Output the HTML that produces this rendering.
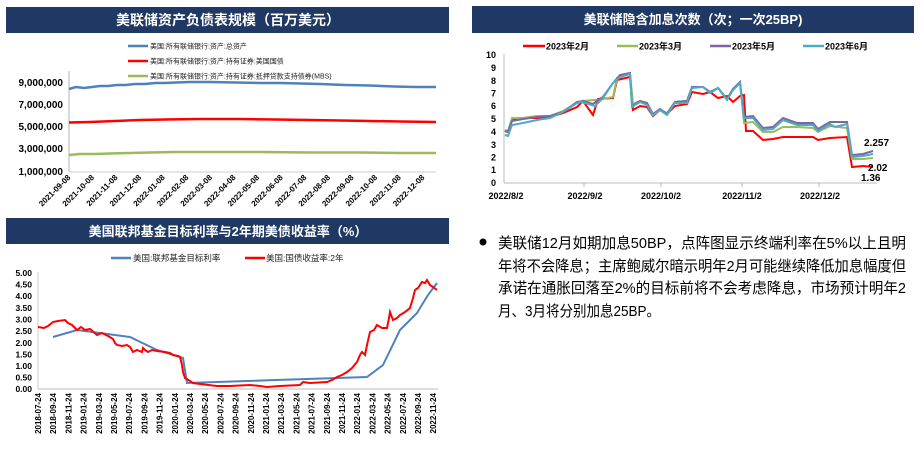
<!DOCTYPE html>
<html><head><meta charset="utf-8"><style>
html,body{margin:0;padding:0;background:#fff;}
svg{display:block;font-family:"Liberation Sans","Noto Sans CJK SC",sans-serif;}
</style></head><body>
<svg width="922" height="451" viewBox="0 0 922 451" xmlns="http://www.w3.org/2000/svg">
<!-- Panel 1 -->
<rect x="6" y="7" width="443" height="26" fill="#1f3864"/>
<text x="228" y="25" fill="#fff" font-size="14" font-weight="bold" text-anchor="middle">美联储资产负债表规模（百万美元）</text>
<g font-size="7" fill="#222">
<line x1="128" y1="46" x2="148" y2="46" stroke="#4f81bd" stroke-width="2.5"/><text x="150" y="48.5">美国:所有联储银行:资产:总资产</text>
<line x1="128" y1="61" x2="148" y2="61" stroke="#ff0000" stroke-width="2.5"/><text x="150" y="63.5">美国:所有联储银行:资产:持有证券:美国国债</text>
<line x1="128" y1="76" x2="148" y2="76" stroke="#9bbb59" stroke-width="2.5"/><text x="150" y="78.5">美国:所有联储银行:资产:持有证券:抵押贷款支持债券(MBS)</text>
</g>
<g font-size="10" font-weight="bold" fill="#000" text-anchor="end">
<text x="63" y="86">9,000,000</text><text x="63" y="108">7,000,000</text><text x="63" y="130">5,000,000</text><text x="63" y="152">3,000,000</text><text x="63" y="175">1,000,000</text>
</g>
<line x1="69" y1="71" x2="69" y2="172" stroke="#ccc" stroke-width="1.5"/>
<line x1="69" y1="172" x2="436" y2="172" stroke="#ccc" stroke-width="1"/>
<polyline fill="none" stroke="#4f81bd" stroke-width="2.5" points="69,89 76,87 84,88 92,87 100,86 108,86 117,85 126,85 135,84 145,84 155,83 165,83 176,82.5 190,82 210,82 235,82.5 260,83 280,83 300,83.5 320,84 345,85 370,85.5 395,86.5 415,87 436,87"/>
<polyline fill="none" stroke="#ff0000" stroke-width="2.5" points="69,122.5 90,122 115,121 140,120 165,119.5 200,119 240,119 275,119.5 310,120 340,120.5 370,121 400,121.5 436,122"/>
<polyline fill="none" stroke="#9bbb59" stroke-width="2.5" points="69,155 80,154 95,154 110,153.5 130,153 150,152.5 175,152 210,152 260,152 310,152.5 360,152.5 400,153 436,153"/>
<g font-size="8" font-weight="bold" fill="#000" text-anchor="end">
<text transform="translate(71,178) rotate(-45)">2021-09-08</text>
<text transform="translate(94.6,178) rotate(-45)">2021-10-08</text>
<text transform="translate(118.2,178) rotate(-45)">2021-11-08</text>
<text transform="translate(141.8,178) rotate(-45)">2021-12-08</text>
<text transform="translate(165.4,178) rotate(-45)">2022-01-08</text>
<text transform="translate(189,178) rotate(-45)">2022-02-08</text>
<text transform="translate(212.6,178) rotate(-45)">2022-03-08</text>
<text transform="translate(236.2,178) rotate(-45)">2022-04-08</text>
<text transform="translate(259.8,178) rotate(-45)">2022-05-08</text>
<text transform="translate(283.4,178) rotate(-45)">2022-06-08</text>
<text transform="translate(307,178) rotate(-45)">2022-07-08</text>
<text transform="translate(330.6,178) rotate(-45)">2022-08-08</text>
<text transform="translate(354.2,178) rotate(-45)">2022-09-08</text>
<text transform="translate(377.8,178) rotate(-45)">2022-10-08</text>
<text transform="translate(401.4,178) rotate(-45)">2022-11-08</text>
<text transform="translate(425,178) rotate(-45)">2022-12-08</text>
</g>
<line x1="6" y1="219" x2="449" y2="219" stroke="#1f3864" stroke-width="2"/>

<!-- Panel 2 -->
<rect x="472" y="6" width="442" height="27" fill="#1f3864"/>
<text x="693" y="24" fill="#fff" font-size="13" font-weight="bold" text-anchor="middle">美联储隐含加息次数（次；一次25BP)</text>
<g font-size="9" font-weight="bold" fill="#000">
<line x1="523" y1="46" x2="545" y2="46" stroke="#ff0000" stroke-width="2.5"/><text x="546" y="49.5">2023年2月</text>
<line x1="617" y1="46" x2="638" y2="46" stroke="#9bbb59" stroke-width="2.5"/><text x="639" y="49.5">2023年3月</text>
<line x1="710" y1="46" x2="731" y2="46" stroke="#8064a2" stroke-width="2.5"/><text x="732" y="49.5">2023年5月</text>
<line x1="803" y1="46" x2="824" y2="46" stroke="#4bacc6" stroke-width="2.5"/><text x="825" y="49.5">2023年6月</text>
</g>
<g font-size="9" font-weight="bold" fill="#000" text-anchor="end">
<text x="496" y="58">10</text><text x="496" y="71">9</text><text x="496" y="84">8</text><text x="496" y="96.5">7</text><text x="496" y="109">6</text><text x="496" y="122">5</text><text x="496" y="135">4</text><text x="496" y="148">3</text><text x="496" y="160.5">2</text><text x="496" y="173">1</text><text x="496" y="186">0</text>
</g>
<line x1="504" y1="54" x2="504" y2="183" stroke="#bbb"/>
<line x1="504" y1="183" x2="877" y2="183" stroke="#bbb"/>
<g stroke="#bbb"><line x1="584" y1="183" x2="584" y2="187"/><line x1="661" y1="183" x2="661" y2="187"/><line x1="742" y1="183" x2="742" y2="187"/><line x1="819" y1="183" x2="819" y2="187"/></g>
<g font-size="9" font-weight="bold" fill="#000" text-anchor="middle">
<text x="506" y="199">2022/8/2</text><text x="585" y="199">2022/9/2</text><text x="661" y="199">2022/10/2</text><text x="742" y="199">2022/11/2</text><text x="820" y="199">2022/12/2</text>
</g>
<polyline fill="none" stroke="#ff0000" stroke-width="2" points="505,131 508,132 512,120 523,118 537,118 550,117 563,113 577,107 583,101 593,115 598,99 613,98 617,80 630,77 633,110 640,106 647,107 653,116 660,110 667,114 675,106 687,104 692,92 703,94 710,92 718,98 727,96 733,102 740,96 744,95 746,131 753,131 763,140 773,139 783,137 797,137 813,137 818,140 830,138 847,137 852,167 863,166 873,167"/>
<polyline fill="none" stroke="#9bbb59" stroke-width="2" points="505,130 508,131 512,118 523,118 537,116 550,116 563,111 577,103 583,101 593,100 598,100 613,97 617,78 630,73 633,104 640,101 647,103 653,115 660,110 667,113 675,102 687,101 692,87 703,87 710,92 718,88 727,99 733,89 740,82 744,123 753,122 763,132 773,132 783,127 797,127 813,128 818,132 830,126 847,128 852,159 863,159 873,158"/>
<polyline fill="none" stroke="#8064a2" stroke-width="2" points="505,131 508,132 512,121 523,119 537,117 550,116 563,112 577,102 583,101 593,104 598,100 603,97 613,83 620,75 630,73 632,106 640,101 647,103 653,114 660,109 667,114 675,102 687,101 692,87 703,87 710,92 718,88 727,99 733,89 740,82 744,117 753,116 763,128 773,127 783,118 797,123 813,123 818,129 830,122 847,122 852,155 863,154 873,151"/>
<polyline fill="none" stroke="#4bacc6" stroke-width="2" points="505,135 508,136 512,125 523,123 537,120 550,118 563,112 577,103 580,102 585,103 595,106 603,98 613,83 620,77 630,74 632,107 640,102 647,105 653,115 660,110 667,115 675,103 687,103 692,88 703,87 710,93 718,88 727,100 733,90 740,83 744,118 753,118 763,130 773,129 783,120 797,125 813,125 818,131 830,124 835,127 847,124 852,157 863,156 873,154"/>
<g font-size="10" font-weight="bold" fill="#000">
<text x="864" y="146">2.257</text><text x="868" y="171">2.02</text><text x="861" y="181">1.36</text>
</g>

<!-- Panel 3 -->
<rect x="6" y="218" width="443" height="26" fill="#1f3864"/>
<text x="228" y="236" fill="#fff" font-size="13" font-weight="bold" text-anchor="middle">美国联邦基金目标利率与2年期美债收益率（%）</text>
<g font-size="8.5" fill="#222">
<line x1="111" y1="258" x2="131" y2="258" stroke="#4f81bd" stroke-width="2.5"/><text x="133" y="261">美国:联邦基金目标利率</text>
<line x1="245" y1="258" x2="265" y2="258" stroke="#ff0000" stroke-width="2.5"/><text x="266" y="261">美国:国债收益率:2年</text>
</g>
<g font-size="8.5" font-weight="bold" fill="#000" text-anchor="end">
<text x="32" y="276">5.00</text><text x="32" y="287.5">4.50</text><text x="32" y="299">4.00</text><text x="32" y="311">3.50</text><text x="32" y="322.5">3.00</text><text x="32" y="334">2.50</text><text x="32" y="346">2.00</text><text x="32" y="357.5">1.50</text><text x="32" y="369">1.00</text><text x="32" y="380.5">0.50</text><text x="32" y="392">0.00</text>
</g>
<line x1="38" y1="272" x2="38" y2="389" stroke="#ccc"/>
<line x1="38" y1="389" x2="438" y2="389" stroke="#bbb"/>
<polyline fill="none" stroke="#4f81bd" stroke-width="2" points="53,337 77,330 130,337 157,350 180,357 183,358 187,383 367,377 383,365 400,330 417,313 428,295 437,283"/>
<polyline fill="none" stroke="#ff0000" stroke-width="2" points="38,327 44,328 48,326 53,322 58,321 65,320 68,323 72,325 77,330 81,327 85,330 90,329 97,335 102,333 108,336 113,339 115,343 117,345 122,346 127,345 130,347 133,352 137,350 142,352 143,348 145,350 148,352 152,350 157,351 165,352 170,353 173,355 178,356 180,357 182,365 183,372 185,378 190,381 193,383 200,384 217,386 230,386 250,385 260,386 267,387 280,386 300,385 303,382 310,383 327,382 332,380 337,377 342,375 347,372 352,368 357,362 360,355 362,352 365,355 367,345 370,332 374,330 377,325 382,328 387,328 389,318 390,312 393,320 397,318 400,315 405,312 410,308 413,298 415,290 418,288 422,282 425,283 427,280 430,285 433,287 437,290"/>
<g font-size="8" font-weight="bold" fill="#000" text-anchor="end">
<text transform="translate(41,393) rotate(-90)">2018-07-24</text>
<text transform="translate(56.2,393) rotate(-90)">2018-09-24</text>
<text transform="translate(71.4,393) rotate(-90)">2018-11-24</text>
<text transform="translate(86.6,393) rotate(-90)">2019-01-24</text>
<text transform="translate(101.8,393) rotate(-90)">2019-03-24</text>
<text transform="translate(117,393) rotate(-90)">2019-05-24</text>
<text transform="translate(132.2,393) rotate(-90)">2019-07-24</text>
<text transform="translate(147.4,393) rotate(-90)">2019-09-24</text>
<text transform="translate(162.6,393) rotate(-90)">2019-11-24</text>
<text transform="translate(177.8,393) rotate(-90)">2020-01-24</text>
<text transform="translate(193,393) rotate(-90)">2020-03-24</text>
<text transform="translate(208.2,393) rotate(-90)">2020-05-24</text>
<text transform="translate(223.4,393) rotate(-90)">2020-07-24</text>
<text transform="translate(238.6,393) rotate(-90)">2020-09-24</text>
<text transform="translate(253.8,393) rotate(-90)">2020-11-24</text>
<text transform="translate(269,393) rotate(-90)">2021-01-24</text>
<text transform="translate(284.2,393) rotate(-90)">2021-03-24</text>
<text transform="translate(299.4,393) rotate(-90)">2021-05-24</text>
<text transform="translate(314.6,393) rotate(-90)">2021-07-24</text>
<text transform="translate(329.8,393) rotate(-90)">2021-09-24</text>
<text transform="translate(345,393) rotate(-90)">2021-11-24</text>
<text transform="translate(360.2,393) rotate(-90)">2022-01-24</text>
<text transform="translate(375.4,393) rotate(-90)">2022-03-24</text>
<text transform="translate(390.6,393) rotate(-90)">2022-05-24</text>
<text transform="translate(405.8,393) rotate(-90)">2022-07-24</text>
<text transform="translate(421,393) rotate(-90)">2022-09-24</text>
<text transform="translate(436.2,393) rotate(-90)">2022-11-24</text>
</g>

<!-- Text -->
<circle cx="483" cy="242" r="3.5" fill="#000"/>
<g font-size="15" fill="#000">
<text x="498" y="248" textLength="408" lengthAdjust="spacingAndGlyphs">美联储12月如期加息50BP，点阵图显示终端利率在5%以上且明</text>
<text x="498" y="271" textLength="408" lengthAdjust="spacingAndGlyphs">年将不会降息；主席鲍威尔暗示明年2月可能继续降低加息幅度但</text>
<text x="498" y="293" textLength="408" lengthAdjust="spacingAndGlyphs">承诺在通胀回落至2%的目标前将不会考虑降息，市场预计明年2</text>
<text x="498" y="316" textLength="162" lengthAdjust="spacingAndGlyphs">月、3月将分别加息25BP。</text>
</g>
</svg>
</body></html>
